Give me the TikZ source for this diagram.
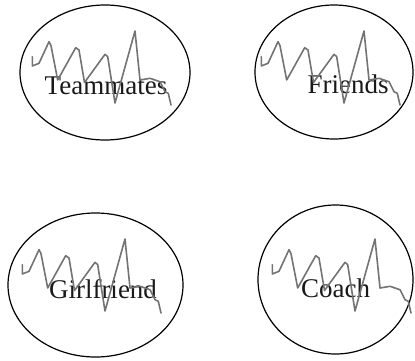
\documentclass[tikz,border=0pt]{standalone}
\usepackage{fontspec}
\setmainfont{Liberation Serif}
\usetikzlibrary{shapes.geometric}
\tikzset{
  x=1pt, y=-1pt,
  oval/.style={draw=black, line width=1.2pt, ellipse, inner sep=0pt},
  lbl/.style={font=\fontsize{27}{27}\selectfont, text=black!90, anchor=base, inner sep=0pt},
  wave/.style={draw=black!55, line width=1.6pt, line join=round, line cap=round},
  pics/squiggle/.style={code={
    \draw[wave] (32.3,56.7) -- (32.3,66) -- (39,63.3) -- (49,41.7) -- (51,45.7)
      -- (57.7,80) -- (75.7,47.7) -- (79,50) -- (84.5,82.5) -- (105,54.3)
      -- (107.7,56.7) -- (115,103) -- (135,31) -- (140,80) -- (150,78.3)
      -- (160,81.7) -- (165,91.7) -- (168.3,93.3) -- (171,105);
  }}
}
\begin{document}
\begin{tikzpicture}
\useasboundingbox (0,0) rectangle (415,360);
% ovals
\node[oval, minimum width=170pt, minimum height=135pt] (e1) at (105,72.5) {};
\node[oval, minimum width=158pt, minimum height=134pt] (e2) at (334,72) {};
\node[oval, minimum width=175pt, minimum height=144pt] (e3) at (95.5,285) {};
\node[oval, minimum width=155pt, minimum height=149pt] (e4) at (335.5,279.5) {};
% labels
\node[lbl] (t1) at (106,94) {Teammates};
\node[lbl] (t2) at (348,93) {Friends};
\node[lbl] (t3) at (103,298) {Girlfriend};
\node[lbl] (t4) at (335.5,297) {Coach};
% waveforms
\pic at (0,0) {squiggle};
\pic at (229,0) {squiggle};
\pic at (-10,208) {squiggle};
\pic at (240,208) {squiggle};
\end{tikzpicture}
\end{document}
